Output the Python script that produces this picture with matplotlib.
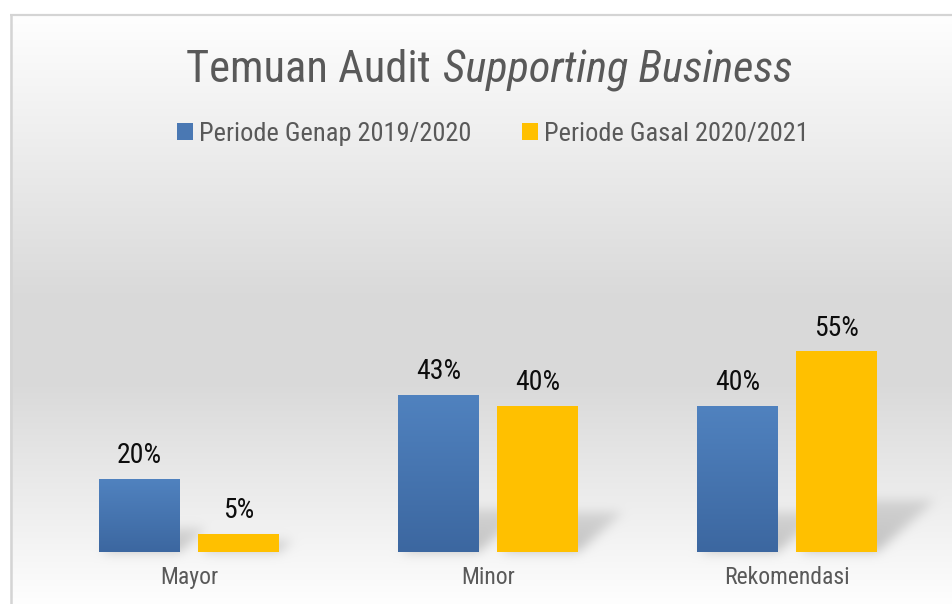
import matplotlib
matplotlib.use("Agg")
import matplotlib.pyplot as plt
import numpy as np
from matplotlib.patches import Patch
from matplotlib.path import Path

# ---- data ----
categories = ["Mayor", "Minor", "Rekomendasi"]
series_names = ["Periode Genap 2019/2020", "Periode Gasal 2020/2021"]
genap = [20, 43, 40]
gasal = [5, 40, 55]

plt.rcParams["font.family"] = ["Roboto Condensed", "DejaVu Sans"]

W, H = 952, 604
DPI = 100
fig = plt.figure(figsize=(W / DPI, H / DPI), dpi=DPI)

# ---- background axes (gradient panel + frame) ----
bg = fig.add_axes([0, 0, 1, 1], zorder=0)
rows = np.arange(H)
vals = np.interp(rows, [0, 15, 16, 300, 380, 604], [255, 255, 254, 217, 217, 254])
shade = np.repeat(vals[:, None], W, axis=1).astype(float)
shade[:15, :] = 255
shade[:, :10] = 255

# ---- bar axes ----
base_px = 552
px_per_pct = 3.65
ymax = 100
left_px, right_px = 12, 952
ax = fig.add_axes([left_px / W, (H - base_px) / H, (right_px - left_px) / W,
                   ymax * px_per_pct / H], zorder=1)
ax.set_facecolor("none")
cat_px = 299.0
xlim = ((left_px - 189) / cat_px, (right_px - 189) / cat_px)
ax.set_xlim(*xlim)
ax.set_ylim(0, ymax)
for s in ax.spines.values():
    s.set_visible(False)
ax.set_yticks([])

x = np.arange(len(categories))
bw = 81 / cat_px
off = 49.75 / cat_px
blue_top = np.array([80, 130, 191]) / 255
blue_bot = np.array([60, 103, 160]) / 255
yellow = "#ffc000"

b1 = ax.bar(x - off, genap, bw, color=blue_top, zorder=3, label=series_names[0])
b2 = ax.bar(x + off, gasal, bw, color=yellow, zorder=3, label=series_names[1])

# soft floor shadow cast by each bar, rasterised into the background
yy, xx = np.mgrid[0:H, 0:W]
pts = np.column_stack([xx.ravel() + 0.5, yy.ravel() + 0.5])
mask = np.zeros((H, W))
for rect in list(b1) + list(b2):
    (X0, Y0), (X1, Y1) = ax.transData.transform(
        [(rect.get_x(), 0), (rect.get_x() + rect.get_width(), rect.get_height())])
    x0, x1 = X0, X1
    base = H - Y0
    h = Y1 - Y0
    dx = 10 + 0.24 * h
    dy = 8 + 0.22 * h
    poly = Path([(x0 + 3, base), (x1, base), (x1 + dx, base - dy),
                 (x0 + dx, base - dy), (x0 + 3, base)])
    m = poly.contains_points(pts).reshape(H, W).astype(float)
    # the far end of the shadow fades out
    fade = np.clip(1 - 0.45 * (base - (yy + 0.5)) / max(dy, 1), 0.5, 1)
    mask = np.maximum(mask, m * fade)

def blur(a, sigma):
    r = int(3 * sigma)
    k = np.exp(-0.5 * (np.arange(-r, r + 1) / sigma) ** 2)
    k /= k.sum()
    a = np.apply_along_axis(lambda v: np.convolve(v, k, mode="same"), 0, a)
    a = np.apply_along_axis(lambda v: np.convolve(v, k, mode="same"), 1, a)
    return a

mask = blur(mask, 5.5)
shade = shade * (1 - 0.21 * mask)

rgb = np.dstack([shade, shade, shade]).clip(0, 255).astype(np.uint8)
bg.imshow(rgb, extent=(0, W, H, 0), aspect="auto", interpolation="nearest")
bg.plot([10, W], [15, 15], color="#d4d4d4", lw=1.6, solid_capstyle="butt")
bg.plot([11, 11], [15, H], color="#d4d4d4", lw=1.8, solid_capstyle="butt")
bg.set_xlim(0, W)
bg.set_ylim(H, 0)
bg.axis("off")

# vertical gradient fill on the blue bars
grad = np.linspace(0, 1, 256)[:, None]
gimg = blue_top[None, None, :] * (1 - grad[..., None]) + blue_bot[None, None, :] * grad[..., None]
for rect in b1:
    xs, w_, h_ = rect.get_x(), rect.get_width(), rect.get_height()
    im = ax.imshow(gimg, extent=(xs, xs + w_, 0, h_), origin="upper", aspect="auto",
                   zorder=4, interpolation="bilinear")
    im.set_clip_path(rect)
ax.set_xlim(*xlim)
ax.set_ylim(0, ymax)

for bars in (b1, b2):
    ax.bar_label(bars, labels=[f"{int(v)}%" for v in bars.datavalues], padding=7,
                 fontsize=20, color="#0d0d0d", zorder=5)

ax.set_xticks(x)
ax.set_xticklabels(categories, fontsize=17, color="#595959")
ax.tick_params(axis="x", length=0, pad=10)

# ---- legend ----
handles = [Patch(facecolor="#4a78b3", edgecolor="none"),
           Patch(facecolor=yellow, edgecolor="none")]
fig.legend(handles, series_names, loc="center", ncol=2,
           bbox_to_anchor=(493 / W, 1 - 134 / H), frameon=False,
           fontsize=19, labelcolor="#595959",
           handlelength=0.6, handleheight=0.6, handletextpad=0.25,
           columnspacing=1.9, borderpad=0)

# ---- title: regular + italic parts ----
title_size = 32
ty = 1 - 82 / H
t1 = fig.text(0, ty, "Temuan Audit", fontsize=title_size, color="#595959",
              ha="left", va="baseline")
t2 = fig.text(0, ty, "Supporting Business", fontsize=title_size, color="#595959",
              style="italic", ha="left", va="baseline")
fig.canvas.draw()
r = fig.canvas.get_renderer()
w1 = t1.get_window_extent(r).width
w2 = t2.get_window_extent(r).width
gap = 0.28 * title_size * DPI / 72
total = w1 + gap + w2
x0 = 489 - total / 2
t1.set_x(x0 / W)
t2.set_x((x0 + w1 + gap) / W)

fig.savefig("out.png", dpi=DPI)
